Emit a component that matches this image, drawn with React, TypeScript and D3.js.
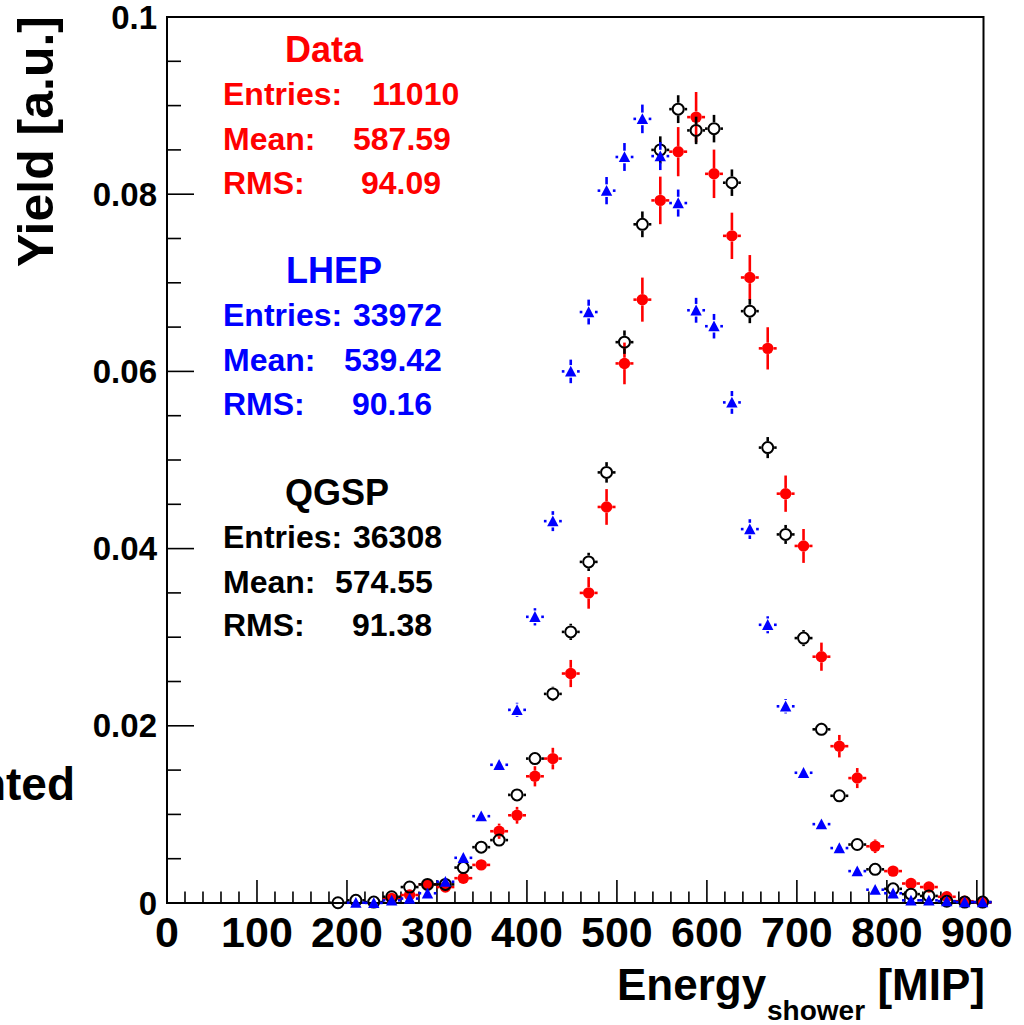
import React from 'react';
import * as d3 from 'd3';

// ---- data ----
const binCenters = [
  190.0, 209.9, 229.8, 249.7, 269.6, 289.5, 309.4, 329.3, 349.2, 369.1,
  389.0, 408.9, 428.8, 448.7, 468.6, 488.5, 508.4, 528.3, 548.2, 568.1,
  588.0, 607.9, 627.8, 647.7, 667.6, 687.5, 707.4, 727.3, 747.2, 767.1,
  787.0, 806.9, 826.8, 846.7, 866.6, 886.5, 906.4,
];

const dataValues: (number | null)[] = [
  null, null, null, 0.0005, 0.0009, 0.0021, 0.0018, 0.0028, 0.0043, 0.0081,
  0.0099, 0.0143, 0.0163, 0.0259, 0.0350, 0.0447, 0.0609, 0.0681, 0.0793, 0.0848,
  0.0887, 0.0823, 0.0753, 0.0706, 0.0626, 0.0462, 0.0403, 0.0278, 0.0177, 0.0141,
  0.0064, 0.0036, 0.0022, 0.0018, 0.0007, 0.0002, 0.00005,
];

const lhepValues: (number | null)[] = [
  null, 0.00003, 0.00001, 0.0003, 0.0005, 0.0011, 0.0024, 0.0051, 0.0098, 0.0156,
  0.0218, 0.0323, 0.0431, 0.0600, 0.0667, 0.0804, 0.0842, 0.0885, 0.0843, 0.0790,
  0.0669, 0.0651, 0.0565, 0.0422, 0.0314, 0.0222, 0.0147, 0.0089, 0.0062, 0.0036,
  0.0015, 0.0011, 0.0003, 0.0003, 0.0002, 0.0001, 0.0001,
];

const qgspValues: (number | null)[] = [
  0.00003, 0.0003, 0.0001, 0.0007, 0.0018, 0.0021, 0.0021, 0.0040, 0.0063, 0.0071,
  0.0122, 0.0163, 0.0236, 0.0306, 0.0385, 0.0486, 0.0633, 0.0766, 0.0850, 0.0896,
  0.0872, 0.0874, 0.0813, 0.0668, 0.0514, 0.0416, 0.0299, 0.0196, 0.0121, 0.0066,
  0.0038, 0.0016, 0.0010, 0.0008, 0.0002, 0.0001, 0.0001,
];

const xTicks = [0, 100, 200, 300, 400, 500, 600, 700, 800, 900];
const yTicks = [0, 0.02, 0.04, 0.06, 0.08, 0.1];
const yTickLabels = ['0', '0.02', '0.04', '0.06', '0.08', '0.1'];

const statNames = ['Data', 'LHEP', 'QGSP'];
const statEntries = ['11010', '33972', '36308'];
const statMeans = ['587.59', '539.42', '574.55'];
const statRms = ['94.09', '90.16', '91.38'];
const statColors = ['#ff0000', '#0000ff', '#000000'];

// ---- layout ----
const W = 1024;
const H = 1025;
const FONT = '"Liberation Sans", Arial, Helvetica, sans-serif';

const x = d3.scaleLinear().domain([0, 907.4]).range([167, 983.5]);
const y = d3.scaleLinear().domain([0, 0.1]).range([903, 17]);

const halfBinPx = (x(19.9) - x(0)) / 2;

type Kind = 'dot' | 'ring' | 'tri';

function Stubs({ cx, cy, err, r, color, w }: { cx: number; cy: number; err: number; r: number; color: string; w: number }) {
  const segs: [number, number, number, number][] = [];
  if (err > r) {
    segs.push([cx, cy - err, cx, cy - r]);
    segs.push([cx, cy + r, cx, cy + err]);
  }
  if (halfBinPx > r) {
    segs.push([cx - halfBinPx, cy, cx - r, cy]);
    segs.push([cx + r, cy, cx + halfBinPx, cy]);
  }
  return (
    <g stroke={color} strokeWidth={w}>
      {segs.map((s, i) => (
        <line key={i} x1={s[0]} y1={s[1]} x2={s[2]} y2={s[3]} />
      ))}
    </g>
  );
}

function Series({ values, entries, color, kind }: { values: (number | null)[]; entries: number; color: string; kind: Kind }) {
  return (
    <g>
      {values.map((v, i) => {
        if (v === null) return null;
        const cx = x(binCenters[i]);
        const cy = y(v);
        const errPx = y(0) - y(Math.sqrt(v / entries));
        let marker;
        let edge = 5.5;
        if (kind === 'dot') {
          marker = <circle cx={cx} cy={cy} r={5.7} fill={color} />;
          edge = 5.7;
        } else if (kind === 'ring') {
          marker = <circle cx={cx} cy={cy} r={5.5} fill="none" stroke={color} strokeWidth={2} />;
          edge = 6.4;
        } else {
          const s = 5.7;
          marker = (
            <path
              d={`M${cx - s},${cy + s * 0.9} L${cx + s},${cy + s * 0.9} L${cx},${cy - s} Z`}
              fill={color}
            />
          );
          edge = 6.3;
        }
        return (
          <g key={i}>
            <Stubs cx={cx} cy={cy} err={errPx} r={edge} color={color} w={2.6} />
            {marker}
          </g>
        );
      })}
    </g>
  );
}

export default function App() {
  const xMinor = d3.range(0, 901, 20);
  const yMinor = d3.range(0, 0.1001, 0.005);
  const labelX = 223;
  const valueXs = [
    [372, 353, 361],
    [353, 344, 352],
    [353, 335, 352],
  ];
  const titleXs = [285, 286, 285];

  return (
    <svg
      width={W}
      height={H}
      viewBox={`0 0 ${W} ${H}`}
      style={{ position: 'absolute', left: 0, top: 0, background: '#fff' }}
      fontFamily={FONT}
      fontWeight="bold"
    >
      <rect x={0} y={0} width={W} height={H} fill="#fff" />

      {/* text from neighbouring pad, cut by the left edge as in the reference */}
      <text x={75} y={800} fontSize={46} textAnchor="end" fill="#000">nted</text>

      {/* frame */}
      <rect x={x(0)} y={y(0.1)} width={x(907.4) - x(0)} height={y(0) - y(0.1)} fill="none" stroke="#000" strokeWidth={2} />

      {/* x ticks */}
      <g stroke="#000" strokeWidth={1.6}>
        {xMinor.map((t) => {
          const major = Math.abs(t % 100) < 1e-6;
          return <line key={t} x1={x(t)} x2={x(t)} y1={y(0)} y2={y(0) - (major ? 23 : 11.5)} />;
        })}
      </g>
      {xTicks.map((t) => (
        <text key={t} x={x(t)} y={947} fontSize={43} textAnchor="middle" fill="#000">
          {String(t)}
        </text>
      ))}

      {/* y ticks */}
      <g stroke="#000" strokeWidth={1.6}>
        {yMinor.map((t, i) => {
          const major = i % 4 === 0;
          return <line key={i} x1={x(0)} x2={x(0) + (major ? 27 : 14)} y1={y(t)} y2={y(t)} />;
        })}
      </g>
      {yTicks.map((t, i) => (
        <text key={t} x={157} y={y(t) + 11.5} fontSize={33} textAnchor="end" fill="#000">
          {yTickLabels[i]}
        </text>
      ))}

      {/* axis titles */}
      <text transform={`translate(53,16) rotate(-90)`} fontSize={50} textAnchor="end" fill="#000">
        Yield [a.u.]
      </text>
      <text x={617} y={1000} fontSize={44} fill="#000">Energy</text>
      <text x={767} y={1020} fontSize={28} fill="#000">shower</text>
      <text x={985} y={1000} fontSize={44} textAnchor="end" fill="#000">[MIP]</text>

      {/* stats */}
      {statNames.map((name, i) => {
        const base = 62 + 221.3 * i;
        const c = statColors[i];
        return (
          <g key={name} fill={c}>
            <text x={titleXs[i]} y={base} fontSize={36}>{name}</text>
            <text x={labelX} y={base + 43} fontSize={32}>Entries:</text>
            <text x={valueXs[i][0]} y={base + 43} fontSize={32}>{statEntries[i]}</text>
            <text x={labelX} y={base + 88} fontSize={32}>Mean:</text>
            <text x={valueXs[i][1]} y={base + 88} fontSize={32}>{statMeans[i]}</text>
            <text x={labelX} y={base + 131.5} fontSize={32}>RMS:</text>
            <text x={valueXs[i][2]} y={base + 131.5} fontSize={32}>{statRms[i]}</text>
          </g>
        );
      })}

      {/* data series */}
      <Series values={dataValues} entries={11010} color="#ff0000" kind="dot" />
      <Series values={qgspValues} entries={36308} color="#000000" kind="ring" />
      <Series values={lhepValues} entries={33972} color="#0000ff" kind="tri" />
    </svg>
  );
}
